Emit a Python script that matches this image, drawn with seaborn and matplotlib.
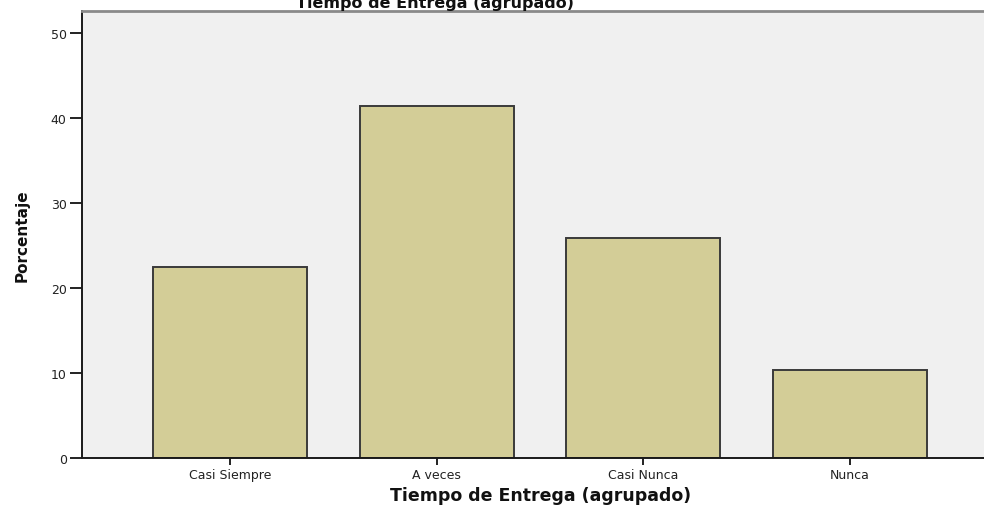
import pandas as pd
import seaborn as sns
import matplotlib.pyplot as plt

# Data
categorias = ['Casi Siempre', 'A veces', 'Casi Nunca', 'Nunca']
porcentaje = [22.4, 41.4, 25.9, 10.3]
yticks = [0, 10, 20, 30, 40, 50]

df = pd.DataFrame({'categoria': categorias, 'porcentaje': porcentaje})

sns.set_style('white')
plt.rcParams['font.family'] = ['DejaVu Sans']

fig = plt.figure(figsize=(9.84, 5.10), dpi=100)
ax = fig.add_axes([0.0833, 0.10, 0.9167, 0.8755])
ax.set_facecolor('#f0f0f0')

sns.barplot(data=df, x='categoria', y='porcentaje', ax=ax,
            color='#d3cd97', saturation=1, width=0.746,
            edgecolor='#3a3a3a', linewidth=1.4)

ax.set_xlim(-0.717, 3.651)
ax.set_ylim(0, 52.5)
ax.set_yticks(yticks)
ax.tick_params(axis='both', bottom=True, left=True, direction='out',
               width=1.4, color='#222222', labelsize=9,
               labelcolor='#222222', pad=2)
ax.tick_params(axis='y', length=9)
ax.tick_params(axis='x', length=5)
ax.set_xlabel('')
ax.set_ylabel('')

for side in ['left', 'bottom']:
    ax.spines[side].set_color('#1a1a1a')
    ax.spines[side].set_linewidth(1.4)
ax.spines['top'].set_color('#8a8a8a')
ax.spines['top'].set_linewidth(2)
ax.spines['right'].set_visible(False)

# titles and axis labels
fig.text(0.442, 0.984, 'Tiempo de Entrega (agrupado)', ha='center',
         va='baseline', fontsize=11.5, fontweight='bold', color='#111111')
fig.text(0.549, 0.018, 'Tiempo de Entrega (agrupado)', ha='center',
         va='baseline', fontsize=12.5, fontweight='bold', color='#111111')
fig.text(0.022, 0.537, 'Porcentaje', rotation=90, ha='center', va='center',
         fontsize=11, fontweight='bold',
         family=['Liberation Sans Narrow', 'DejaVu Sans'], color='#111111')

fig.savefig('out.png', dpi=100)
